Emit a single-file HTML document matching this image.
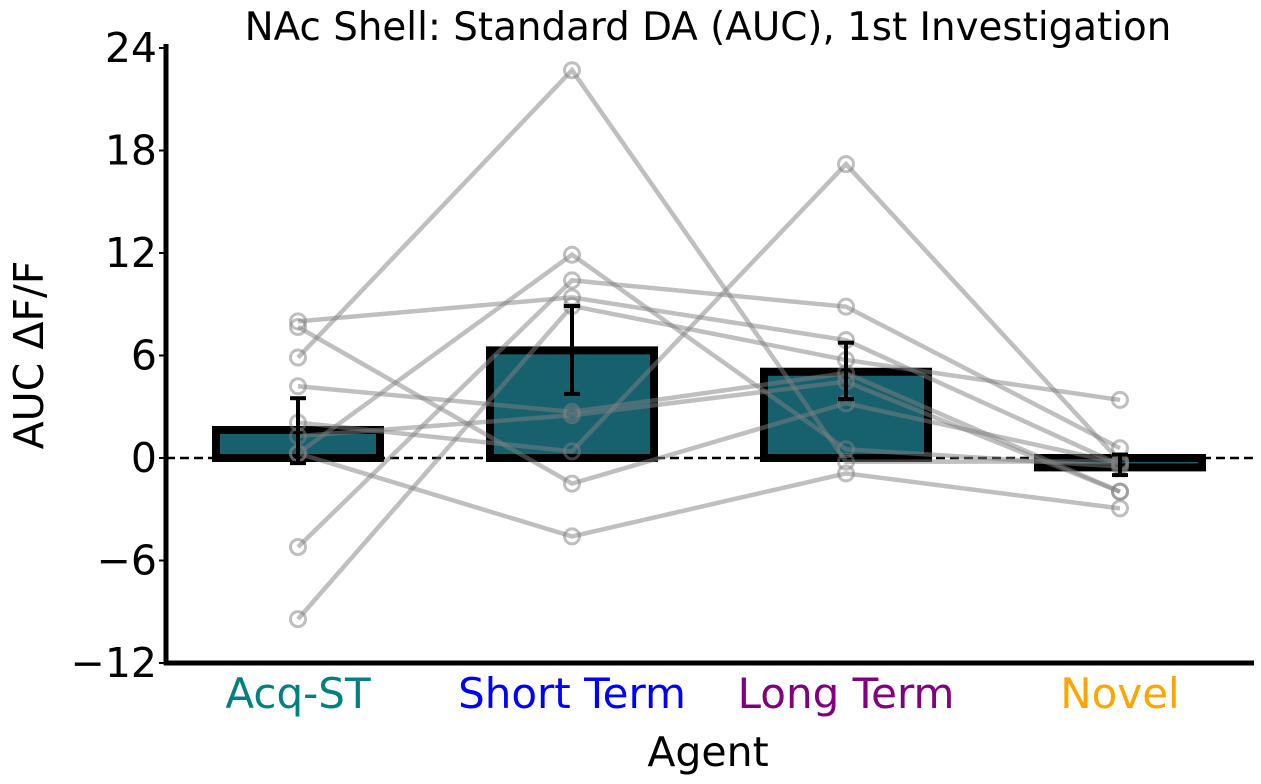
<!DOCTYPE html>
<html><head><meta charset="utf-8"><style>
body{margin:0;background:#fff;}
svg{display:block;font-family:"DejaVu Sans","Liberation Sans",sans-serif;}
</style></head><body>
<svg id="chart" width="1261" height="784" viewBox="0 0 1261 784"></svg>
<script>
const categories=["Acq-ST","Short Term","Long Term","Novel"];
const catColors=["#008080","#0000ff","#800080","#ffa500"];
const means=[1.64,6.3,5.05,-0.55];
const errLow=[-0.3,3.75,3.45,-1.0];
const errHigh=[3.5,8.9,6.75,0.2];
const subjAcq=[8.0,7.67,5.88,4.2,2.07,1.28,0.27,0.27,-5.21,-9.43];
const subjShort=[9.4,-1.5,22.7,2.7,0.39,2.5,11.9,-4.59,10.4,8.9];
const subjLong=[6.9,3.2,-0.22,4.97,17.2,4.47,0.51,-0.9,8.86,5.74];
const subjNovel=[-0.4,-0.3,-0.2,-1.97,-0.2,-1.97,-0.5,-2.95,0.57,3.4];
const yTicks=[-12,-6,0,6,12,18,24];
const yTickLabels=["\u221212","\u22126","0","6","12","18","24"];

const NS="http://www.w3.org/2000/svg";
const svg=document.getElementById('chart');
const y=v=>458-(v*615/36);
const x=i=>298+274*i;
function mk(tag,attrs,parent){const e=document.createElementNS(NS,tag);for(const k in attrs)e.setAttribute(k,attrs[k]);(parent||svg).appendChild(e);return e;}

categories.forEach((c,i)=>{
  const top=Math.min(y(0),y(means[i])),h=Math.abs(y(means[i])-y(0));
  const b=mk('rect',{x:x(i)-82,y:top,width:164,height:Math.max(h,1),fill:'#17606e',stroke:'#000','stroke-width':8});
  
  
});
const zl=mk('line',{x1:166,x2:1254,y1:y(0),y2:y(0),stroke:'#000','stroke-width':2.5,'stroke-dasharray':'9,5'});


const series=[subjAcq,subjShort,subjLong,subjNovel];
for(let s=0;s<subjAcq.length;s++){
  const pts=series.map((a,i)=>x(i)+','+y(a[s])).join(' ');
  const pl=mk('polyline',{points:pts,fill:'none',stroke:'#808080','stroke-opacity':0.5,'stroke-width':4.5});
  
  
  series.forEach((a,i)=>{
    const c=mk('circle',{cx:x(i),cy:y(a[s]),r:7.5,fill:'none',stroke:'#808080','stroke-opacity':0.5,'stroke-width':3});
    
    
  });
}
categories.forEach((c,i)=>{
  const g=mk('g',{stroke:'#000','stroke-width':4});
  
  
  mk('line',{x1:x(i),x2:x(i),y1:y(errLow[i]),y2:y(errHigh[i])},g);
  mk('line',{x1:x(i)-8,x2:x(i)+8,y1:y(errLow[i]),y2:y(errLow[i])},g);
  mk('line',{x1:x(i)-8,x2:x(i)+8,y1:y(errHigh[i]),y2:y(errHigh[i])},g);
});
const ya=mk('line',{x1:166,x2:166,y1:44,y2:665,stroke:'#000','stroke-width':5});


const xa=mk('line',{x1:164,x2:1254,y1:663,y2:663,stroke:'#000','stroke-width':5});


yTicks.forEach((t,i)=>{
  mk('line',{x1:159,x2:166,y1:y(t),y2:y(t),stroke:'#000','stroke-width':2});
  const tx=mk('text',{x:157,y:y(t)+14,'text-anchor':'end','font-size':41,fill:'#000'});
  tx.textContent=yTickLabels[i];
  
  
});
categories.forEach((c,i)=>{
  const tx=mk('text',{x:x(i),y:708,'text-anchor':'middle','font-size':42,fill:catColors[i]});
  tx.textContent=c;
  
  
});
const xt=mk('text',{x:708,y:766,'text-anchor':'middle','font-size':41,fill:'#000'});
xt.textContent='Agent';


const yt=mk('text',{x:0,y:0,'text-anchor':'middle','font-size':41,fill:'#000',transform:'translate(43,355) rotate(-90)'});
yt.textContent='AUC \u0394F/F';


const tt=mk('text',{x:708,y:40,'text-anchor':'middle','font-size':38.8,fill:'#000'});
tt.textContent='NAc Shell: Standard DA (AUC), 1st Investigation';


</script>
</body></html>
